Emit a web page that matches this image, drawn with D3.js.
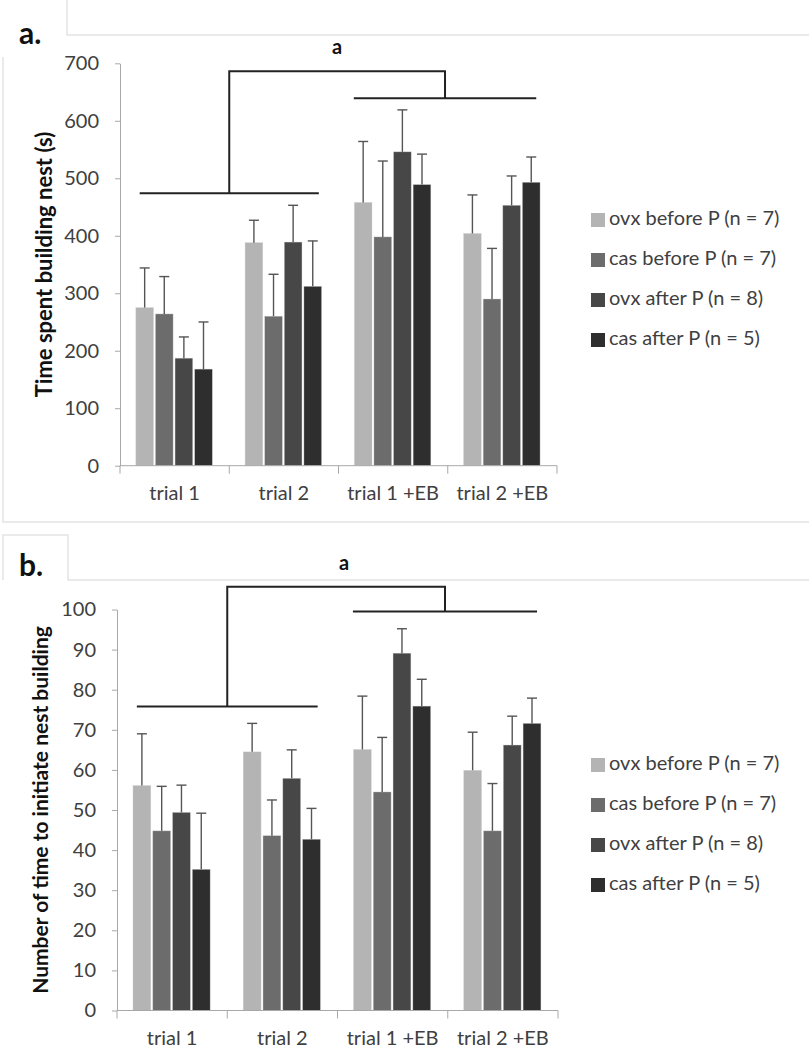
<!DOCTYPE html>
<html>
<head>
<meta charset="utf-8">
<script src="https://cdn.jsdelivr.net/npm/d3@7"></script>
<style>
  html, body { margin: 0; padding: 0; background: #fff; }
  svg { display: block; font-family: Lato, "Open Sans", sans-serif; }
</style>
</head>
<body>
<svg id="chart" width="809" height="1050"></svg>
<script>
// ---------- data ----------
const categories = ["trial 1", "trial 2", "trial 1 +EB", "trial 2 +EB"];
const seriesNames = ["ovx before P (n = 7)", "cas before P (n = 7)", "ovx after P (n = 8)", "cas after P (n = 5)"];
const seriesColors = ["#b4b4b4", "#6c6c6c", "#474747", "#2e2e2e"];

// panel a: time spent building nest (s) — means and SE (upper error)
const timeOvxBefore = [275, 388, 458, 404];
const timeCasBefore = [264, 260, 398, 290];
const timeOvxAfter  = [187, 389, 546, 453];
const timeCasAfter  = [168, 312, 489, 493];
const timeOvxBeforeErr = [69, 39, 106, 67];
const timeCasBeforeErr = [65, 73, 132, 88];
const timeOvxAfterErr  = [37, 64, 73, 51];
const timeCasAfterErr  = [82, 79, 53, 44];
const timeTicks = [0, 100, 200, 300, 400, 500, 600, 700];
// significance bracket levels (data units): left group, right group, top
const timeBracket = [474, 639, 686];

// panel b: number of time to initiate nest building
const initOvxBefore = [56.1, 64.5, 65.1, 59.9];
const initCasBefore = [44.8, 43.6, 54.5, 44.8];
const initOvxAfter  = [49.4, 57.9, 89.1, 66.2];
const initCasAfter  = [35.2, 42.7, 75.9, 71.6];
const initOvxBeforeErr = [12.9, 7.1, 13.3, 9.5];
const initCasBeforeErr = [11.1, 8.9, 13.6, 11.8];
const initOvxAfterErr  = [6.8, 7.1, 6.1, 7.2];
const initCasAfterErr  = [14.0, 7.7, 6.7, 6.3];
const initTicks = [0, 10, 20, 30, 40, 50, 60, 70, 80, 90, 100];
const initBracket = [75.8, 99.5, 105.7];

// ---------- drawing ----------
const svg = d3.select("#chart");

// faint panel frames (screenshot borders)
const frame = svg.append("g").attr("stroke", "#e4e4e4").attr("stroke-width", 1.5).attr("fill", "none");
frame.append("path").attr("d", "M67,0 V35 H809");
frame.append("path").attr("d", "M3,57 V522 H809");
frame.append("path").attr("d", "M3,580 V535 H68 V580 H809");

function drawPanel(cfg) {
  const g = svg.append("g");
  const x = d3.scaleBand().domain(categories).range([cfg.x0, cfg.x1]).paddingInner(0).paddingOuter(0);
  const xs = d3.scaleBand().domain(seriesNames)
    .range([x.bandwidth() * 0.145, x.bandwidth() * 0.845]).paddingInner(0.1).paddingOuter(0);
  const y = d3.scaleLinear().domain([0, cfg.ymax]).range([cfg.yBottom, cfg.yTop]);

  // y axis
  const yAxis = g.append("g").attr("transform", `translate(${cfg.x0},0)`)
    .call(d3.axisLeft(y).tickValues(cfg.ticks).tickSize(5).tickPadding(16).tickSizeOuter(0));
  yAxis.select(".domain").attr("stroke", "#a8a8a8");
  yAxis.selectAll(".tick line").attr("stroke", "#a8a8a8");
  yAxis.selectAll(".tick text").attr("fill", "#404040").style("font-size", "20px")
    .style("font-family", "Lato, sans-serif");

  // bars
  const rows = [];
  cfg.series.forEach((vals, si) => {
    vals.forEach((v, ci) => rows.push({ c: categories[ci], s: seriesNames[si], v, e: cfg.errs[si][ci], color: seriesColors[si] }));
  });
  const bars = g.append("g");
  bars.selectAll("rect").data(rows).join("rect")
    .attr("x", d => x(d.c) + xs(d.s))
    .attr("width", xs.bandwidth())
    .attr("y", d => y(d.v))
    .attr("height", d => y(0) - y(d.v))
    .attr("fill", d => d.color)
    .attr("stroke", "#d0d0d0").attr("stroke-width", 0.6).attr("stroke-opacity", 0.6);

  // error bars (upper only)
  const eb = g.append("g").attr("stroke", "#555").attr("stroke-width", 1.4);
  eb.selectAll("line.v").data(rows).join("line").attr("class", "v")
    .attr("x1", d => x(d.c) + xs(d.s) + xs.bandwidth() / 2)
    .attr("x2", d => x(d.c) + xs(d.s) + xs.bandwidth() / 2)
    .attr("y1", d => y(d.v)).attr("y2", d => y(d.v + d.e));
  eb.selectAll("line.c").data(rows).join("line").attr("class", "c")
    .attr("x1", d => x(d.c) + xs(d.s) + xs.bandwidth() / 2 - 5)
    .attr("x2", d => x(d.c) + xs(d.s) + xs.bandwidth() / 2 + 5)
    .attr("y1", d => y(d.v + d.e)).attr("y2", d => y(d.v + d.e));

  // x axis with ticks at band boundaries
  const xa = g.append("g").attr("stroke", "#a8a8a8").attr("stroke-width", 1);
  xa.append("line").attr("x1", cfg.x0).attr("x2", cfg.x1).attr("y1", y(0)).attr("y2", y(0));
  const bounds = categories.map(c => x(c)).concat([cfg.x1]);
  xa.selectAll("line.t").data(bounds).join("line").attr("class", "t")
    .attr("x1", d => d).attr("x2", d => d).attr("y1", y(0)).attr("y2", y(0) + 8);
  g.append("g").selectAll("text").data(categories).join("text")
    .attr("x", d => x(d) + x.bandwidth() / 2).attr("y", y(0) + 29)
    .attr("text-anchor", "middle").attr("dominant-baseline", "middle")
    .attr("fill", "#404040").style("font-size", "20px").text(d => d);

  // significance brackets
  const bw = x.bandwidth();
  const lx1 = x(categories[0]) + bw * 0.18, lx2 = x(categories[1]) + bw * 0.82;
  const rx1 = x(categories[2]) + bw * 0.14, rx2 = x(categories[3]) + bw * 0.81;
  const lm = (lx1 + lx2) / 2, rm = (rx1 + rx2) / 2;
  const br = g.append("g").attr("stroke", "#222").attr("stroke-width", 2).attr("fill", "none");
  br.append("line").attr("x1", lx1).attr("x2", lx2).attr("y1", y(cfg.bracket[0])).attr("y2", y(cfg.bracket[0]));
  br.append("line").attr("x1", rx1).attr("x2", rx2).attr("y1", y(cfg.bracket[1])).attr("y2", y(cfg.bracket[1]));
  br.append("path").attr("d", `M${lm},${y(cfg.bracket[0])} V${y(cfg.bracket[2])} H${rm} V${y(cfg.bracket[1])}`);
  g.append("text").attr("x", (lm + rm) / 2 + cfg.aShift).attr("y", y(cfg.bracket[2]) - 22)
    .attr("text-anchor", "middle").attr("dominant-baseline", "middle")
    .attr("fill", "#111").style("font-size", "20px").style("font-weight", "bold").text("a");

  // y title
  g.append("text").attr("transform", `translate(${cfg.titleX},${(cfg.yTop + cfg.yBottom) / 2}) rotate(-90)`)
    .attr("text-anchor", "middle").attr("dominant-baseline", "middle")
    .attr("fill", "#111").style("font-size", cfg.titleSize).style("font-weight", "bold").text(cfg.title);

  // panel letter
  g.append("text").attr("x", 19).attr("y", cfg.letterY).attr("dominant-baseline", "middle")
    .attr("fill", "#111").style("font-size", "30px").style("font-weight", "bold").text(cfg.letter);

  // legend
  const lg = g.append("g").selectAll("g").data(seriesNames).join("g")
    .attr("transform", (d, i) => `translate(591,${cfg.legendY + i * 40})`);
  lg.append("rect").attr("x", 0).attr("y", -7).attr("width", 14).attr("height", 14)
    .attr("fill", (d, i) => seriesColors[i]);
  lg.append("text").attr("x", 18).attr("y", 0).attr("dominant-baseline", "middle")
    .attr("fill", "#404040").style("font-size", "20px").text(d => d);
}

drawPanel({
  x0: 120, x1: 557, yTop: 63.3, yBottom: 465.7, ymax: 700, ticks: timeTicks,
  series: [timeOvxBefore, timeCasBefore, timeOvxAfter, timeCasAfter],
  errs: [timeOvxBeforeErr, timeCasBeforeErr, timeOvxAfterErr, timeCasAfterErr],
  bracket: timeBracket, title: "Time spent building nest (s)", titleX: 46, titleSize: "22px",
  letter: "a.", letterY: 36, legendY: 220, aShift: 0
});

drawPanel({
  x0: 117, x1: 558, yTop: 609.5, yBottom: 1010.5, ymax: 100, ticks: initTicks,
  series: [initOvxBefore, initCasBefore, initOvxAfter, initCasAfter],
  errs: [initOvxBeforeErr, initCasBeforeErr, initOvxAfterErr, initCasAfterErr],
  bracket: initBracket, title: "Number of time to initiate nest building", titleX: 43, titleSize: "21px",
  letter: "b.", letterY: 568, legendY: 765, aShift: 8
});
</script>
</body>
</html>
